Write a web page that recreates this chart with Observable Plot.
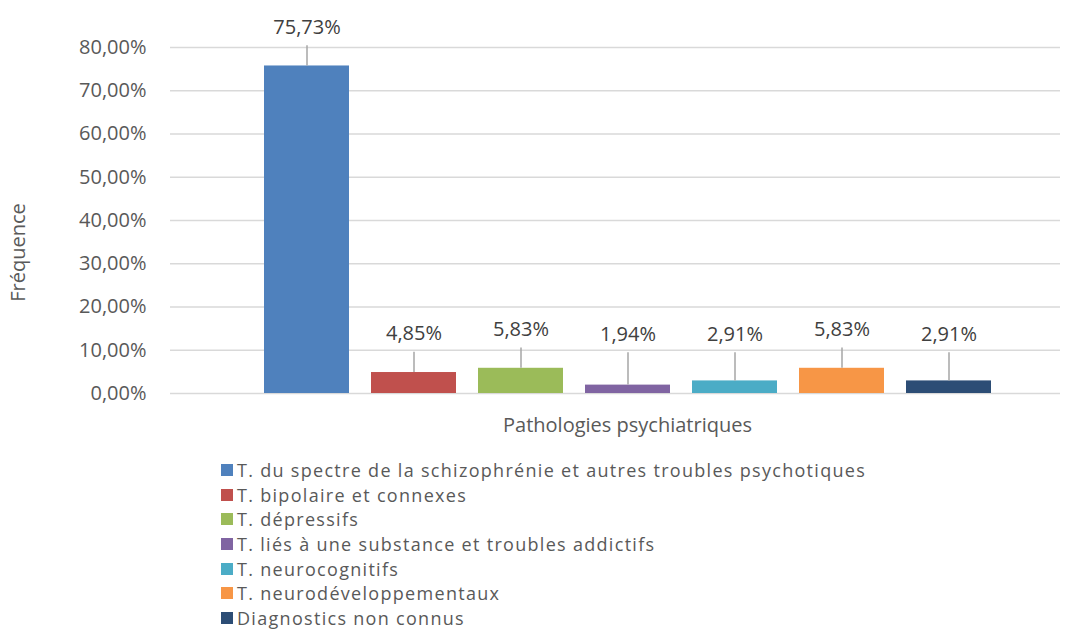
<!DOCTYPE html>
<html><head><meta charset="utf-8">
<script src="https://cdn.jsdelivr.net/npm/d3@7"></script>
<script src="https://cdn.jsdelivr.net/npm/@observablehq/plot@0.6"></script>
<style>
body{margin:0;background:#fff;font-family:"Open Sans",sans-serif;color:#595959}
#legend{margin-left:221px;margin-top:8px}
.item{display:flex;align-items:center;height:24.6px;line-height:24px;font-size:18px;letter-spacing:1.3px;white-space:nowrap}
.sw{width:12px;height:12px;margin-right:4px;flex:none}
</style></head><body><div id="chart"></div><div id="legend"></div>
<script>
const categories = [
  "T. du spectre de la schizophrénie et autres troubles psychotiques",
  "T. bipolaire et connexes",
  "T. dépressifs",
  "T. liés à une substance et troubles addictifs",
  "T. neurocognitifs",
  "T. neurodéveloppementaux",
  "Diagnostics non connus"
];
const values = [75.73, 4.85, 5.83, 1.94, 2.91, 5.83, 2.91];
const colors = ["#4f81bd", "#c0504d", "#9bbb59", "#8064a2", "#4bacc6", "#f79646", "#2c4d75"];
const yTicks = [0, 10, 20, 30, 40, 50, 60, 70, 80];

const fmt = d => d.toFixed(2).replace(".", ",") + "%";
const data = categories.map((c, i) => ({c, v: values[i], color: colors[i], lab: Math.max(values[i] + 8.9, 13.6)}));

const chart = Plot.plot({
  width: 1076, height: 450,
  marginLeft: 170, marginRight: 16, marginTop: 47, marginBottom: 57,
  style: {fontFamily: "Open Sans", fontSize: "20px", color: "#595959", background: "#fff"},
  x: {domain: categories, axis: null, range: [251, 1004], paddingInner: 0.205, paddingOuter: 0.1},
  y: {domain: [0, 80], axis: null},
  color: {type: "identity"},
  marks: [
    Plot.ruleY(yTicks, {y: d => d, stroke: "#d9d9d9", strokeWidth: 1.5}),
    Plot.text(yTicks, {y: d => d, frameAnchor: "left", textAnchor: "end", dx: -24, text: fmt, fill: "#595959", fontSize: 20}),
    Plot.barY(data, {x: "c", y: "v", fill: "color"}),
    Plot.ruleX(data, {x: "c", y1: d => d.lab - 4.2, y2: "v", stroke: "#a6a6a6", strokeWidth: 1.5}),
    Plot.text(data, {x: "c", y: "lab", text: d => fmt(d.v), fill: "#404040", fontSize: 20}),
    Plot.text(["Pathologies psychiatriques"], {frameAnchor: "bottom", dx: 12, dy: 38, text: d => d, fill: "#595959", fontSize: 20}),
    Plot.text(["Fréquence"], {y: [32.6], frameAnchor: "left", textAnchor: "middle", rotate: -90, dx: -152, text: d => d, fill: "#595959", fontSize: 20})
  ]
});
document.getElementById("chart").appendChild(chart);

const legend = document.getElementById("legend");
categories.forEach((c, i) => {
  const it = document.createElement("div");
  it.className = "item";
  const sw = document.createElement("span");
  sw.className = "sw";
  sw.style.background = colors[i];
  const t = document.createElement("span");
  t.textContent = c;
  it.appendChild(sw); it.appendChild(t);
  legend.appendChild(it);
});
</script></body></html>
